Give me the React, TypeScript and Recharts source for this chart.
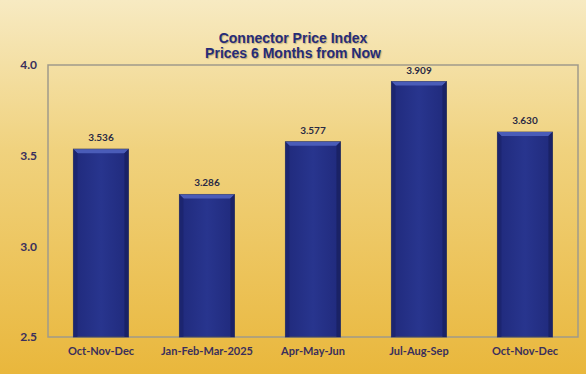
import { Bar, BarChart, LabelList, ReferenceArea, XAxis, YAxis } from "recharts";

const quarters = ["Oct-Nov-Dec", "Jan-Feb-Mar-2025", "Apr-May-Jun", "Jul-Aug-Sep", "Oct-Nov-Dec"];
const priceIndex = [3.536, 3.286, 3.577, 3.909, 3.63];
const yTicks = [2.5, 3.0, 3.5, 4.0];

const data = quarters.map((quarter, i) => ({ key: `${quarter}-${i}`, quarter, value: priceIndex[i] }));

const tickFont = { fontFamily: "Lato, 'Open Sans', sans-serif", fontSize: 12, fontWeight: 700, fill: "#3a2f5c" };

function BevelBar(props: any) {
  const { x, y, width, height } = props;
  if (!height || height <= 0) return null;
  const b = 4;
  return (
    <g>
      <rect x={x} y={y} width={width} height={height} fill="url(#barFill)" stroke="#4a4a58" strokeWidth={1} />
      <polygon
        points={`${x},${y} ${x + width},${y} ${x + width - b},${y + b} ${x + b},${y + b}`}
        fill="#4a5cb8"
      />
      <polygon points={`${x},${y} ${x + b},${y + b} ${x + b},${y + height} ${x},${y + height}`} fill="#1c2570" />
      <polygon
        points={`${x + width},${y} ${x + width - b},${y + b} ${x + width - b},${y + height} ${x + width},${y + height}`}
        fill="#1a2266"
      />
    </g>
  );
}

export default function App() {
  return (
    <div
      style={{
        position: "absolute",
        top: 0,
        left: 0,
        width: 586,
        height: 374,
        background: "linear-gradient(180deg, #f7eac2 0%, #f0d27e 40%, #e9b73c 100%)",
      }}
    >
      <div
        style={{
          position: "absolute",
          top: 31,
          left: 0,
          width: 586,
          textAlign: "center",
          fontFamily: "'Liberation Sans', Arial, sans-serif",
          fontWeight: 700,
          fontSize: 14,
          lineHeight: "15px",
          color: "#262c78",
          textShadow: "1px 1px 1px rgba(120,100,60,0.45)",
        }}
      >
        Connector Price Index
        <br />
        Prices 6 Months from Now
      </div>
      <BarChart
        width={586}
        height={374}
        data={data}
        margin={{ top: 65, right: 8, bottom: 0, left: 0 }}
        barCategoryGap="24%"
        style={{ position: "absolute", top: 0, left: 0 }}
      >
        <defs>
          <linearGradient id="barFill" x1="0" y1="0" x2="1" y2="0">
            <stop offset="0%" stopColor="#202a7c" />
            <stop offset="50%" stopColor="#28358e" />
            <stop offset="100%" stopColor="#202a7c" />
          </linearGradient>
        </defs>
        <ReferenceArea y1={2.5} y2={4} fill="none" stroke="#a09a8a" strokeWidth={1.5} ifOverflow="visible" />
        <XAxis
          dataKey="key"
          tickFormatter={(_v, i) => quarters[i]}
          height={37}
          axisLine={false}
          tickLine={false}
          tickSize={0}
          tickMargin={10}
          interval={0}
          tick={{ ...tickFont, fontSize: 11 }}
        />
        <YAxis
          domain={[2.5, 4]}
          ticks={yTicks}
          tickFormatter={(v) => Number(v).toFixed(1)}
          width={48}
          axisLine={false}
          tickLine={false}
          tickSize={0}
          tickMargin={11}
          tick={tickFont}
        />
        <Bar dataKey="value" shape={<BevelBar />} isAnimationActive={false}>
          <LabelList
            dataKey="value"
            position="top"
            offset={8}
            formatter={(v: any) => Number(v).toFixed(3)}
            style={{ fontFamily: "Lato, 'Open Sans', sans-serif", fontSize: 10, fontWeight: 700, fill: "#2a2a44" }}
          />
        </Bar>
      </BarChart>
    </div>
  );
}
